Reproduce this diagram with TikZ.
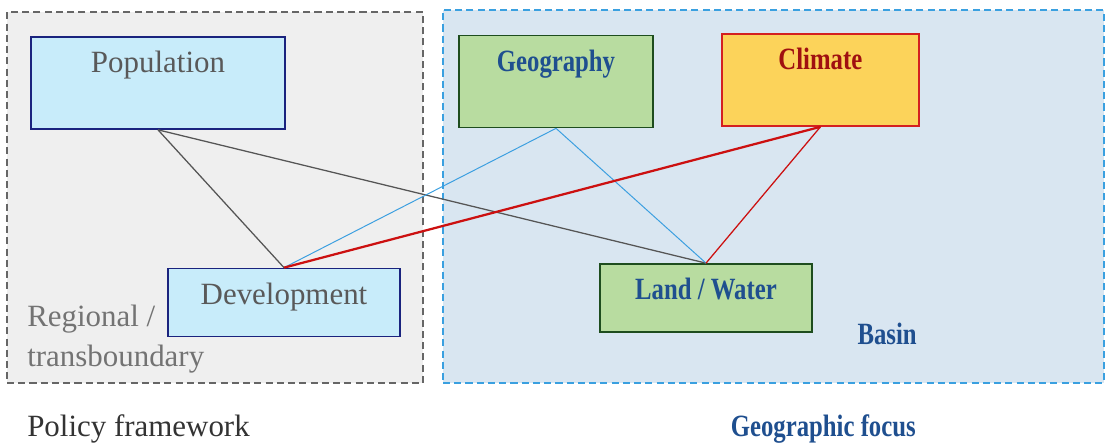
\documentclass[tikz,border=0pt]{standalone}
\usepackage{fontspec}
\setmainfont{Liberation Serif}
\usetikzlibrary{positioning}

\definecolor{popfill}{HTML}{C8ECFA}
\definecolor{popline}{HTML}{1A237E}
\definecolor{geofill}{HTML}{B8DCA0}
\definecolor{geoline}{HTML}{1E4D1E}
\definecolor{geotext}{HTML}{1F4F8F}
\definecolor{climfill}{HTML}{FCD35A}
\definecolor{climline}{HTML}{D42020}
\definecolor{climtext}{HTML}{A01010}
\definecolor{regfill}{HTML}{EFEFEF}
\definecolor{regline}{HTML}{666666}
\definecolor{basinfill}{HTML}{D9E6F1}
\definecolor{basinline}{HTML}{3AA0E0}
\definecolor{linkgray}{HTML}{555555}
\definecolor{linkblue}{HTML}{3B9FE0}
\definecolor{linkred}{HTML}{CC1010}

\newcommand{\narrowbf}[1]{\scalebox{0.8}[1]{\textbf{#1}}}

\begin{document}
\begin{tikzpicture}[
    every node/.style={font=\fontsize{22}{28}\selectfont},
    box/.style={rectangle, draw, line width=1.2pt, inner sep=0pt, text height=0.9cm},
    bigbox/.style={box, text depth=1.4cm},
    smallbox/.style={box, text depth=0.8cm},
    region/.style={rectangle, line width=1.5pt, dash pattern=on 5pt off 3pt}
]
        \useasboundingbox (0,0) rectangle (27.65,11.175);

        % Regional area
        \node[region, draw=regline, fill=regfill, minimum width=10.4cm, minimum height=9.275cm] (regional) at (5.375, 6.2375) {};

        % Basin area
        \node[region, draw=basinline, fill=basinfill, minimum width=16.525cm, minimum height=9.325cm] (basin) at (19.3375, 6.2625) {};

        % Policy boxes
        \node[bigbox, draw=popline, fill=popfill, text=black!65, minimum width=6.35cm] (population) at (3.95, 9.1) {Population};
        \node[smallbox, draw=popline, fill=popfill, text=black!65, minimum width=5.8cm] (development) at (7.1, 3.6125) {Development};

        % Geographic boxes
        \node[bigbox, draw=geoline, fill=geofill, text=geotext, minimum width=4.85cm] (geography) at (13.9, 9.1375) {\narrowbf{Geography}};
        \node[bigbox, draw=climline, fill=climfill, text=climtext, minimum width=4.925cm] (climate) at (20.51, 9.175) {\narrowbf{Climate}};
        \node[smallbox, draw=geoline, fill=geofill, text=geotext, minimum width=5.3cm] (land) at (17.65, 3.725) {\narrowbf{Land / Water}};

        % Links
        \draw[linkgray, line width=0.9pt] (population.south) -- (development.north);
        \draw[linkgray, line width=0.9pt] (population.south) -- (land.north);
        \draw[linkblue, line width=0.7pt] (development.north) -- (geography.south);
        \draw[linkblue, line width=0.7pt] (geography.south) -- (land.north);
        \draw[linkred, line width=1.6pt] (development.north) -- (climate.south);
        \draw[linkred, line width=0.9pt] (climate.south) -- (land.north);

        % Labels
        \node[anchor=north west, align=left, text=black!55, inner sep=0pt] (regionlabel) at (0.675, 3.55) {Regional /\\transboundary};
        \node[anchor=base east, text=geotext, inner sep=0pt] (basinlabel) at (22.925, 2.55) {\narrowbf{Basin}};
        \node[anchor=base west, text=black!80, inner sep=0pt] (policy) at (0.675, 0.25) {Policy framework};
        \node[anchor=base east, text=geotext, inner sep=0pt] (focus) at (22.9, 0.25) {\narrowbf{Geographic focus}};
\end{tikzpicture}
\end{document}
